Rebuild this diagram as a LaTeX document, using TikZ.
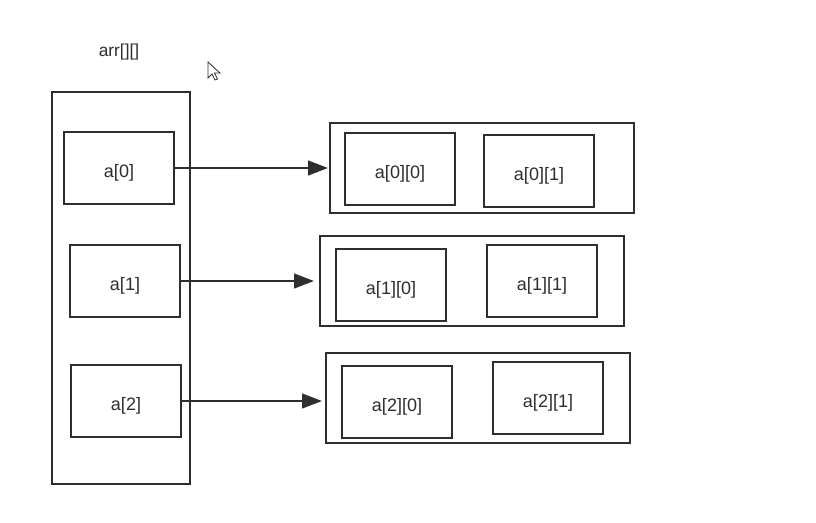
\documentclass[tikz,border=0pt]{standalone}
\usepackage{fontspec}
\setmainfont{Liberation Sans}
\usetikzlibrary{arrows.meta}
\definecolor{ink}{HTML}{2E2E2E}
\begin{document}
\begin{tikzpicture}[x=0.75pt,y=-0.75pt,
  box/.style={draw=ink,line width=1.7pt,rectangle,inner sep=0pt,text=ink,
    font=\fontsize{13.5}{15}\selectfont,text height=13.5pt,text depth=0pt},
  link/.style={draw=ink,line width=1.7pt,-{Triangle[length=15pt,width=11pt]}}]
\useasboundingbox (0,0) rectangle (816,522);
\fill[white] (0,0) rectangle (816,522);
% label
\node[text=ink,font=\fontsize{13}{15}\selectfont] (lbl) at (119,52) {arr[][]};
% cursor
\draw[fill=white,draw=ink,line width=0.6pt,line join=miter]
  (208,62) -- (208,78) -- (212,74) -- (215,80) -- (217.5,79) -- (214.5,73) -- (220,73) -- cycle;
% left container
\node[box,minimum width=138*0.75pt,minimum height=392*0.75pt] (arr) at (121,288) {};
\node[box,minimum width=110*0.75pt,minimum height=72*0.75pt] (a0) at (119,168) {a[0]};
\node[box,minimum width=110*0.75pt,minimum height=72*0.75pt] (a1) at (125,281) {a[1]};
\node[box,minimum width=110*0.75pt,minimum height=72*0.75pt] (a2) at (126,401) {a[2]};
% row 0
\node[box,minimum width=304*0.75pt,minimum height=90*0.75pt] (r0) at (482,168) {};
\node[box,minimum width=110*0.75pt,minimum height=72*0.75pt] (a00) at (400,169) {a[0][0]};
\node[box,minimum width=110*0.75pt,minimum height=72*0.75pt] (a01) at (539,171) {a[0][1]};
% row 1
\node[box,minimum width=304*0.75pt,minimum height=90*0.75pt] (r1) at (472,281) {};
\node[box,minimum width=110*0.75pt,minimum height=72*0.75pt] (a10) at (391,285) {a[1][0]};
\node[box,minimum width=110*0.75pt,minimum height=72*0.75pt] (a11) at (542,281) {a[1][1]};
% row 2
\node[box,minimum width=304*0.75pt,minimum height=90*0.75pt] (r2) at (478,398) {};
\node[box,minimum width=110*0.75pt,minimum height=72*0.75pt] (a20) at (397,402) {a[2][0]};
\node[box,minimum width=110*0.75pt,minimum height=72*0.75pt] (a21) at (548,398) {a[2][1]};
% arrows
\coordinate (e0) at (328,168);
\coordinate (e1) at (314,281);
\coordinate (e2) at (322,401);
\draw[link] (a0.east) -- (e0);
\draw[link] (a1.east) -- (e1);
\draw[link] (a2.east) -- (e2);
\end{tikzpicture}
\end{document}
